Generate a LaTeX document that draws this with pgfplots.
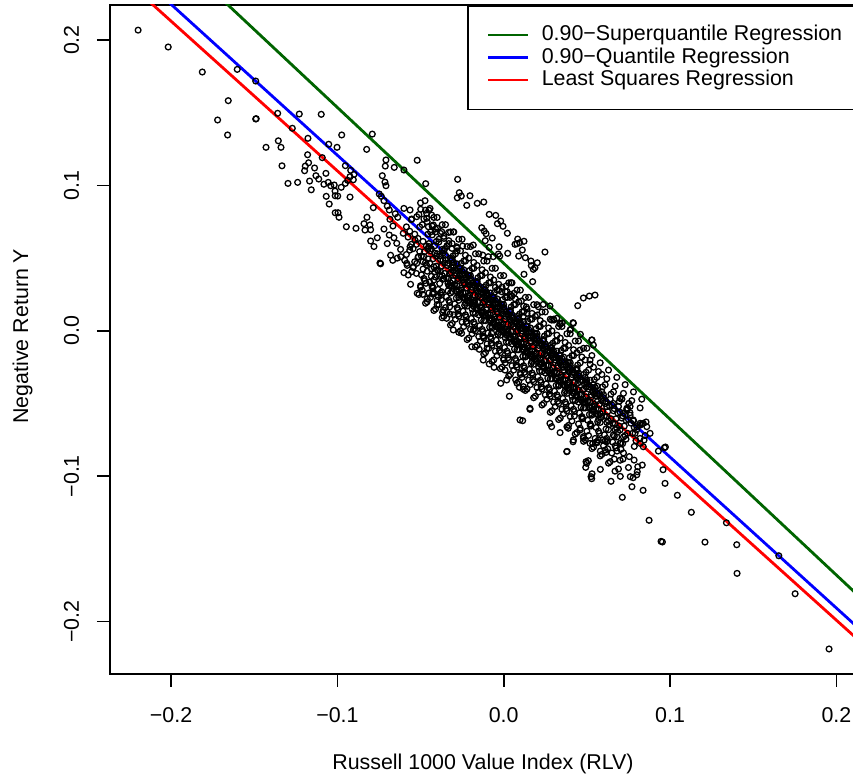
\documentclass[border=0pt]{standalone}
\usepackage{fontspec}
\setmainfont{Liberation Sans}
\usepackage{pgfplots}
\pgfplotsset{compat=1.18}
\usepackage{pgfplotstable}
\definecolor{rdarkgreen}{RGB}{0,100,0}
\pgfplotstableread{
x y
-0.2198 0.2068
-0.2017 0.1952
-0.1812 0.1780
-0.1602 0.1798
-0.1491 0.1718
-0.1656 0.1583
-0.1720 0.1450
-0.1491 0.1457
-0.1488 0.1459
-0.1660 0.1347
-0.1359 0.1496
-0.1229 0.1491
-0.1097 0.1489
-0.1271 0.1393
-0.1177 0.1324
-0.0974 0.1347
-0.1052 0.1283
-0.1002 0.1262
-0.1355 0.1307
-0.1339 0.1262
-0.1429 0.1262
-0.1333 0.1135
-0.1179 0.1211
-0.1173 0.1156
-0.1193 0.1133
-0.1197 0.1101
-0.1137 0.1120
-0.1091 0.1191
-0.1069 0.1083
-0.1129 0.1067
-0.1112 0.1044
-0.1167 0.1030
-0.1297 0.1014
-0.1239 0.1021
-0.1157 0.0970
-0.1081 0.1008
-0.1055 0.1021
-0.1040 0.0998
-0.1019 0.1003
-0.0977 0.0987
-0.0952 0.1014
-0.0938 0.1035
-0.0924 0.1060
-0.0904 0.1039
-0.0952 0.1136
-0.0920 0.1104
-0.0900 0.1076
-0.1014 0.0961
-0.0998 0.0927
-0.1013 0.0929
-0.0924 0.0920
-0.1067 0.0925
-0.1049 0.0872
-0.1013 0.0812
-0.0996 0.0812
-0.0990 0.0781
-0.0946 0.0716
-0.0888 0.0705
-0.0790 0.1353
-0.0824 0.1248
-0.0708 0.1175
-0.0712 0.1133
-0.0658 0.1124
-0.0730 0.1067
-0.0714 0.1023
-0.0708 0.0998
-0.0748 0.0941
-0.0736 0.0925
-0.0720 0.0895
-0.0784 0.0847
-0.0840 0.0737
-0.0804 0.0728
-0.0834 0.0693
-0.0800 0.0695
-0.0822 0.0781
-0.0800 0.0618
-0.0740 0.0461
-0.0667 0.0485
-0.0619 0.0510
-0.0688 0.0831
-0.0700 0.0858
-0.0652 0.0805
-0.0637 0.0781
-0.0684 0.0767
-0.0666 0.0721
-0.0688 0.0659
-0.0643 0.0602
-0.0600 0.0842
-0.0563 0.0831
-0.0553 0.0769
-0.0523 0.0785
-0.0499 0.0836
-0.0473 0.0895
-0.0443 0.0842
-0.0463 0.0808
-0.0433 0.0796
-0.0463 0.0774
-0.0453 0.0716
-0.0423 0.0728
-0.0399 0.0705
-0.0373 0.0682
-0.0359 0.0636
-0.0331 0.0677
-0.0303 0.0680
-0.0341 0.0585
-0.0311 0.0567
-0.0283 0.0578
-0.0247 0.0583
-0.0183 0.0590
-0.0126 0.0521
-0.0093 0.0510
-0.0063 0.0510
-0.0032 0.0528
-0.0563 0.0578
-0.0533 0.0624
-0.0604 0.0671
-0.0583 0.0464
-0.0520 0.1173
-0.0600 0.1106
-0.0469 0.1012
-0.0277 0.1042
-0.0267 0.0950
-0.0279 0.0915
-0.0255 0.0927
-0.0203 0.0929
-0.0222 0.0863
-0.0159 0.0877
-0.0120 0.0886
-0.0087 0.0801
-0.0048 0.0794
-0.0018 0.0755
-0.0038 0.0737
-0.0004 0.0719
0.0022 0.0671
-0.0132 0.0709
-0.0117 0.0686
-0.0106 0.0668
-0.0069 0.0638
-0.0111 0.0620
-0.0087 0.0574
-0.0028 0.0578
0.0084 0.0631
0.0096 0.0606
0.0122 0.0616
0.0068 0.0595
0.0080 0.0599
0.0112 0.0556
0.0090 0.0514
0.0024 0.0533
-0.0024 0.0514
0.0248 0.0542
0.0130 0.0503
0.0164 0.0480
0.0202 0.0468
0.0166 0.0448
0.0188 0.0434
0.0178 0.0423
0.0122 0.0389
0.0174 0.0338
0.0479 0.0226
0.0515 0.0239
0.0549 0.0246
0.0445 0.0173
0.0278 0.0171
0.0238 0.0182
0.0208 0.0166
0.0202 0.0109
0.0302 0.0074
0.0339 0.0045
0.0352 0.0054
0.0417 0.0056
0.0403 0.0010
0.0461 -0.0024
0.0531 -0.0063
0.0062 0.0258
0.0038 0.0230
-0.0012 0.0269
0.0014 0.0308
0.0044 0.0331
0.0106 0.0205
0.0136 0.0164
0.0140 0.0120
0.0118 0.0100
-0.0574 0.0384
-0.0553 0.0407
-0.0543 0.0441
-0.0523 0.0464
-0.0513 0.0510
-0.0520 0.0258
-0.0487 0.0251
-0.0467 0.0327
-0.0423 0.0258
-0.0393 0.0235
-0.0373 0.0269
-0.0363 0.0143
-0.0323 0.0116
-0.0303 0.0006
-0.0253 -0.0017
-0.0183 0.0006
-0.0123 -0.0040
-0.0072 -0.0017
-0.0744 0.0466
-0.0427 0.0253
-0.0367 0.0127
-0.0343 0.0086
-0.0192 -0.0109
-0.0147 -0.0127
-0.0123 -0.0201
-0.0087 -0.0228
-0.0058 -0.0251
0.0008 -0.0270
-0.0018 -0.0361
0.0072 -0.0338
0.0094 -0.0388
0.0118 -0.0402
0.0034 -0.0450
0.0158 -0.0540
0.0114 -0.0618
0.0278 -0.0636
0.0339 -0.0700
0.0388 -0.0670
0.0479 -0.0728
0.0519 -0.0774
0.0569 -0.0751
0.0619 -0.0763
0.0699 -0.0774
0.0098 -0.0613
0.0158 -0.0533
0.0288 -0.0659
0.0379 -0.0831
0.0419 -0.0751
0.0459 -0.0682
0.0479 -0.0739
0.0495 -0.0900
0.0018 -0.0338
0.0118 -0.0384
0.0459 -0.0132
0.0519 -0.0201
0.0529 -0.0063
0.0539 -0.0098
0.0399 0.0006
0.0419 0.0052
0.0339 0.0052
0.0319 0.0086
0.0288 0.0074
0.0699 -0.0464
0.0740 -0.0533
0.0820 -0.0636
0.0860 -0.0659
0.0619 -0.0522
0.0659 -0.0499
0.0719 -0.0567
0.0779 -0.0613
0.0800 -0.0659
0.0839 -0.0636
0.1956 -0.2188
0.1752 -0.1808
0.1654 -0.1547
0.1403 -0.1668
0.1401 -0.1471
0.1339 -0.1320
0.1210 -0.1453
0.1128 -0.1248
0.1044 -0.1131
0.0946 -0.1448
0.0954 -0.1452
0.0874 -0.1303
0.0970 -0.1049
0.0958 -0.0955
0.0930 -0.0827
0.0972 -0.0799
0.0966 -0.0804
0.0838 -0.1097
0.0713 -0.1145
0.0771 -0.1072
0.0645 -0.1035
0.0701 -0.1001
0.0761 -0.1003
0.0778 -0.1010
0.0803 -0.0969
0.0806 -0.0935
0.0833 -0.0923
0.0784 -0.0889
0.0669 -0.0965
0.0581 -0.0953
0.0529 -0.1017
0.0525 -0.1003
0.0531 -0.0983
0.0493 -0.0939
0.0499 -0.0911
0.0509 -0.0893
0.0665 -0.0882
0.0717 -0.0882
0.0681 -0.0827
0.0705 -0.0770
0.0625 -0.0811
0.0615 -0.0836
0.0581 -0.0827
0.0381 -0.0829
0.0417 -0.0763
0.0839 -0.0797
0.0821 -0.0774
0.0844 -0.0751
0.0880 -0.0705
0.0856 -0.0627
0.0833 -0.0639
0.0821 -0.0648
0.0790 -0.0705
0.0699 -0.0682
0.0659 -0.0717
0.0609 -0.0758
0.0595 -0.0751
0.0559 -0.0763
0.0535 -0.0774
0.0752 -0.0499
0.0710 -0.0469
0.0740 -0.0545
0.0759 -0.0563
-0.060 0.040
-0.056 0.032
-0.050 0.030
-0.046 0.022
-0.040 0.018
-0.058 0.045
-0.064 0.050
-0.062 0.056
-0.070 0.060
-0.066 0.064
-0.072 0.070
-0.076 0.064
-0.078 0.058
-0.068 0.052
-0.045 0.060
-0.047 0.047
-0.044 0.055
-0.046 0.041
-0.043 0.066
-0.048 0.051
-0.042 0.035
-0.045 0.058
-0.040 0.053
-0.042 0.044
-0.039 0.061
-0.041 0.037
-0.038 0.049
-0.043 0.030
-0.037 0.056
-0.040 0.042
-0.041 0.068
-0.035 0.049
-0.037 0.038
-0.034 0.045
-0.036 0.055
-0.033 0.031
-0.038 0.041
-0.032 0.026
-0.035 0.052
-0.036 0.036
-0.033 0.060
-0.030 0.044
-0.032 0.033
-0.029 0.040
-0.031 0.049
-0.028 0.027
-0.033 0.036
-0.027 0.021
-0.030 0.047
-0.031 0.031
-0.028 0.055
-0.029 0.038
-0.025 0.039
-0.027 0.028
-0.024 0.035
-0.026 0.043
-0.023 0.022
-0.028 0.031
-0.022 0.017
-0.025 0.041
-0.026 0.026
-0.023 0.048
-0.024 0.033
-0.027 0.010
-0.020 0.034
-0.022 0.023
-0.019 0.030
-0.021 0.038
-0.018 0.017
-0.023 0.026
-0.017 0.012
-0.020 0.036
-0.021 0.021
-0.018 0.043
-0.019 0.028
-0.022 0.005
-0.017 0.031
-0.015 0.029
-0.017 0.018
-0.014 0.025
-0.016 0.033
-0.013 0.012
-0.018 0.021
-0.012 0.007
-0.015 0.031
-0.016 0.016
-0.013 0.038
-0.014 0.023
-0.017 0.000
-0.012 0.026
-0.018 0.019
-0.010 0.024
-0.012 0.013
-0.009 0.020
-0.011 0.028
-0.008 0.007
-0.013 0.016
-0.007 0.002
-0.010 0.026
-0.011 0.011
-0.008 0.033
-0.009 0.018
-0.012 -0.005
-0.007 0.021
-0.013 0.014
-0.010 -0.012
-0.005 0.019
-0.007 0.008
-0.004 0.015
-0.006 0.023
-0.003 0.002
-0.008 0.011
-0.002 -0.003
-0.005 0.021
-0.006 0.006
-0.003 0.028
-0.004 0.013
-0.007 -0.010
-0.002 0.016
-0.008 0.009
-0.005 0.030
0.000 0.014
-0.002 0.003
0.001 0.010
-0.001 0.018
0.002 -0.003
-0.003 0.006
0.003 -0.008
0.000 0.016
-0.001 0.001
0.002 0.023
0.001 0.008
-0.002 -0.015
0.003 0.011
-0.003 0.004
0.000 -0.020
0.001 0.027
0.005 0.009
0.003 -0.002
0.006 0.005
0.004 0.013
0.007 -0.008
0.002 0.001
0.008 -0.013
0.005 0.011
0.004 -0.004
0.007 0.018
0.006 0.003
0.003 -0.020
0.008 0.006
0.002 -0.001
0.005 0.024
0.010 0.004
0.008 -0.007
0.011 0.000
0.009 0.008
0.012 -0.013
0.007 -0.004
0.013 -0.018
0.010 0.006
0.009 -0.009
0.012 0.013
0.011 -0.002
0.008 -0.025
0.013 0.001
0.007 -0.006
0.010 -0.030
0.015 -0.001
0.013 -0.012
0.016 -0.005
0.014 0.003
0.017 -0.018
0.012 -0.009
0.018 -0.023
0.015 0.001
0.014 -0.014
0.017 0.008
0.016 -0.007
0.013 -0.030
0.018 -0.004
0.012 -0.011
0.020 -0.006
0.018 -0.017
0.021 -0.010
0.019 -0.002
0.022 -0.023
0.017 -0.014
0.023 -0.028
0.020 -0.004
0.019 -0.019
0.022 0.003
0.021 -0.012
0.018 -0.035
0.023 -0.009
0.017 -0.016
0.025 -0.011
0.023 -0.022
0.026 -0.015
0.024 -0.007
0.027 -0.028
0.022 -0.019
0.028 -0.033
0.025 -0.009
0.024 -0.024
0.027 -0.002
0.026 -0.017
0.023 -0.040
0.028 -0.014
0.030 -0.016
0.028 -0.027
0.031 -0.020
0.029 -0.012
0.032 -0.033
0.027 -0.024
0.033 -0.038
0.030 -0.014
0.029 -0.029
0.032 -0.007
0.031 -0.022
0.028 -0.045
0.033 -0.019
0.035 -0.021
0.033 -0.032
0.036 -0.025
0.034 -0.017
0.037 -0.038
0.032 -0.029
0.038 -0.043
0.035 -0.019
0.034 -0.034
0.037 -0.012
0.036 -0.027
0.033 -0.050
0.040 -0.026
0.038 -0.037
0.041 -0.030
0.039 -0.022
0.042 -0.043
0.037 -0.034
0.043 -0.048
0.040 -0.024
0.039 -0.039
0.042 -0.017
0.041 -0.032
0.038 -0.055
0.045 -0.031
0.043 -0.042
0.046 -0.035
0.044 -0.027
0.047 -0.048
0.042 -0.039
0.048 -0.053
0.045 -0.029
0.044 -0.044
0.047 -0.060
0.050 -0.036
0.048 -0.047
0.051 -0.040
0.049 -0.032
0.052 -0.053
0.047 -0.044
0.053 -0.058
0.050 -0.034
0.049 -0.049
0.052 -0.065
0.055 -0.041
0.053 -0.052
0.056 -0.045
0.054 -0.037
0.057 -0.058
0.052 -0.049
0.058 -0.063
0.055 -0.039
0.054 -0.054
0.060 -0.046
0.058 -0.057
0.061 -0.050
0.059 -0.042
0.062 -0.063
0.057 -0.054
0.063 -0.068
0.060 -0.044
0.065 -0.051
0.063 -0.062
0.066 -0.055
0.064 -0.047
0.067 -0.068
0.062 -0.059
0.068 -0.073
0.070 -0.056
0.068 -0.067
0.071 -0.060
0.069 -0.052
0.072 -0.073
0.067 -0.064
0.075 -0.061
0.073 -0.072
0.076 -0.058
0.080 -0.068
0.082 -0.074
0.078 -0.062
0.085 -0.072
-0.0575 0.0645
-0.0565 0.0555
-0.0585 0.0715
-0.0555 0.0595
-0.0595 0.0485
-0.0565 0.0685
-0.0585 0.0525
-0.0555 0.0765
-0.0525 0.0595
-0.0515 0.0505
-0.0535 0.0665
-0.0505 0.0545
-0.0545 0.0435
-0.0515 0.0635
-0.0535 0.0475
-0.0505 0.0715
-0.0545 0.0565
-0.0525 0.0395
-0.0475 0.0545
-0.0465 0.0455
-0.0485 0.0615
-0.0455 0.0495
-0.0495 0.0385
-0.0465 0.0585
-0.0485 0.0425
-0.0455 0.0665
-0.0495 0.0515
-0.0475 0.0345
-0.0455 0.0565
-0.0485 0.0475
-0.0425 0.0495
-0.0415 0.0405
-0.0435 0.0565
-0.0405 0.0445
-0.0445 0.0335
-0.0415 0.0535
-0.0435 0.0375
-0.0405 0.0615
-0.0445 0.0465
-0.0425 0.0295
-0.0405 0.0515
-0.0435 0.0425
-0.0415 0.0585
-0.0425 0.0265
-0.0375 0.0445
-0.0365 0.0355
-0.0385 0.0515
-0.0355 0.0395
-0.0395 0.0285
-0.0365 0.0485
-0.0385 0.0325
-0.0355 0.0565
-0.0395 0.0415
-0.0375 0.0245
-0.0355 0.0465
-0.0385 0.0375
-0.0365 0.0535
-0.0375 0.0215
-0.0325 0.0395
-0.0315 0.0305
-0.0335 0.0465
-0.0305 0.0345
-0.0345 0.0235
-0.0315 0.0435
-0.0335 0.0275
-0.0305 0.0515
-0.0345 0.0365
-0.0325 0.0195
-0.0305 0.0415
-0.0335 0.0325
-0.0315 0.0485
-0.0325 0.0165
-0.0275 0.0345
-0.0265 0.0255
-0.0285 0.0415
-0.0255 0.0295
-0.0295 0.0185
-0.0265 0.0385
-0.0285 0.0225
-0.0255 0.0465
-0.0295 0.0315
-0.0275 0.0145
-0.0255 0.0365
-0.0285 0.0275
-0.0265 0.0435
-0.0275 0.0115
-0.0225 0.0295
-0.0215 0.0205
-0.0235 0.0365
-0.0205 0.0245
-0.0245 0.0135
-0.0215 0.0335
-0.0235 0.0175
-0.0205 0.0415
-0.0245 0.0265
-0.0225 0.0095
-0.0205 0.0315
-0.0235 0.0225
-0.0215 0.0385
-0.0225 0.0065
-0.0175 0.0245
-0.0165 0.0155
-0.0185 0.0315
-0.0155 0.0195
-0.0195 0.0085
-0.0165 0.0285
-0.0185 0.0125
-0.0155 0.0365
-0.0195 0.0215
-0.0175 0.0045
-0.0155 0.0265
-0.0185 0.0175
-0.0165 0.0335
-0.0175 0.0015
-0.0125 0.0195
-0.0115 0.0105
-0.0135 0.0265
-0.0105 0.0145
-0.0145 0.0035
-0.0115 0.0235
-0.0135 0.0075
-0.0105 0.0315
-0.0145 0.0165
-0.0125 -0.0005
-0.0105 0.0215
-0.0135 0.0125
-0.0115 0.0285
-0.0125 -0.0035
-0.0075 0.0145
-0.0065 0.0055
-0.0085 0.0215
-0.0055 0.0095
-0.0095 -0.0015
-0.0065 0.0185
-0.0085 0.0025
-0.0055 0.0265
-0.0095 0.0115
-0.0075 -0.0055
-0.0055 0.0165
-0.0085 0.0075
-0.0065 0.0235
-0.0075 -0.0085
-0.0025 0.0095
-0.0015 0.0005
-0.0035 0.0165
-0.0005 0.0045
-0.0045 -0.0065
-0.0015 0.0135
-0.0035 -0.0025
-0.0005 0.0215
-0.0045 0.0065
-0.0025 -0.0105
-0.0005 0.0115
-0.0035 0.0025
-0.0015 0.0185
-0.0025 -0.0135
0.0025 0.0045
0.0035 -0.0045
0.0015 0.0115
0.0045 -0.0005
0.0005 -0.0115
0.0035 0.0085
0.0015 -0.0075
0.0045 0.0165
0.0005 0.0015
0.0025 -0.0155
0.0045 0.0065
0.0015 -0.0025
0.0035 0.0135
0.0025 -0.0185
0.0075 -0.0005
0.0085 -0.0095
0.0065 0.0065
0.0095 -0.0055
0.0055 -0.0165
0.0085 0.0035
0.0065 -0.0125
0.0095 0.0115
0.0055 -0.0035
0.0075 -0.0205
0.0095 0.0015
0.0065 -0.0075
0.0085 0.0085
0.0075 -0.0235
0.0125 -0.0055
0.0135 -0.0145
0.0115 0.0015
0.0145 -0.0105
0.0105 -0.0215
0.0135 -0.0015
0.0115 -0.0175
0.0145 0.0065
0.0105 -0.0085
0.0125 -0.0255
0.0145 -0.0035
0.0115 -0.0125
0.0135 0.0035
0.0125 -0.0285
0.0175 -0.0105
0.0185 -0.0195
0.0165 -0.0035
0.0195 -0.0155
0.0155 -0.0265
0.0185 -0.0065
0.0165 -0.0225
0.0195 0.0015
0.0155 -0.0135
0.0175 -0.0305
0.0195 -0.0085
0.0165 -0.0175
0.0185 -0.0015
0.0175 -0.0335
0.0225 -0.0155
0.0235 -0.0245
0.0215 -0.0085
0.0245 -0.0205
0.0205 -0.0315
0.0235 -0.0115
0.0215 -0.0275
0.0245 -0.0035
0.0205 -0.0185
0.0225 -0.0355
0.0245 -0.0135
0.0215 -0.0225
0.0235 -0.0065
0.0225 -0.0385
0.0275 -0.0205
0.0285 -0.0295
0.0265 -0.0135
0.0295 -0.0255
0.0255 -0.0365
0.0285 -0.0165
0.0265 -0.0325
0.0295 -0.0085
0.0255 -0.0235
0.0275 -0.0405
0.0295 -0.0185
0.0265 -0.0275
0.0285 -0.0115
0.0275 -0.0435
0.0325 -0.0255
0.0335 -0.0345
0.0315 -0.0185
0.0345 -0.0305
0.0305 -0.0415
0.0335 -0.0215
0.0315 -0.0375
0.0345 -0.0135
0.0305 -0.0285
0.0325 -0.0455
0.0345 -0.0235
0.0315 -0.0325
0.0335 -0.0165
0.0325 -0.0485
0.0375 -0.0305
0.0385 -0.0395
0.0365 -0.0235
0.0395 -0.0355
0.0355 -0.0465
0.0385 -0.0265
0.0365 -0.0425
0.0395 -0.0185
0.0355 -0.0335
0.0375 -0.0505
0.0395 -0.0285
0.0365 -0.0375
0.0385 -0.0215
0.0375 -0.0535
0.0425 -0.0355
0.0435 -0.0445
0.0415 -0.0285
0.0445 -0.0405
0.0405 -0.0515
0.0435 -0.0315
0.0415 -0.0475
0.0445 -0.0235
0.0405 -0.0385
0.0425 -0.0555
0.0445 -0.0335
0.0415 -0.0425
0.0435 -0.0265
0.0425 -0.0585
0.0475 -0.0405
0.0485 -0.0495
0.0465 -0.0335
0.0495 -0.0455
0.0455 -0.0565
0.0485 -0.0365
0.0465 -0.0525
0.0495 -0.0285
0.0455 -0.0435
0.0475 -0.0605
0.0495 -0.0385
0.0465 -0.0475
0.0525 -0.0455
0.0535 -0.0545
0.0515 -0.0385
0.0545 -0.0505
0.0505 -0.0615
0.0535 -0.0415
0.0515 -0.0575
0.0545 -0.0335
0.0505 -0.0485
0.0525 -0.0655
0.0545 -0.0435
0.0515 -0.0525
0.0575 -0.0505
0.0585 -0.0595
0.0565 -0.0435
0.0595 -0.0555
0.0555 -0.0665
0.0585 -0.0465
0.0565 -0.0625
0.0595 -0.0385
0.0555 -0.0535
0.0575 -0.0705
0.0595 -0.0485
0.0565 -0.0575
0.0625 -0.0555
0.0635 -0.0645
0.0615 -0.0485
0.0645 -0.0605
0.0605 -0.0715
0.0635 -0.0515
0.0615 -0.0675
0.0645 -0.0435
0.0605 -0.0585
0.0625 -0.0755
0.0675 -0.0605
0.0685 -0.0695
0.0665 -0.0535
0.0695 -0.0655
0.0655 -0.0765
0.0685 -0.0565
0.0665 -0.0725
0.0695 -0.0485
0.0655 -0.0635
0.0675 -0.0805
0.0725 -0.0655
0.0735 -0.0745
0.0715 -0.0585
0.0745 -0.0705
0.0705 -0.0815
0.0735 -0.0615
0.0715 -0.0775
0.0745 -0.0535
0.0775 -0.0705
0.0785 -0.0795
0.0765 -0.0635
0.0795 -0.0755
0.0755 -0.0865
0.0785 -0.0665
-0.048 0.077
-0.050 0.031
-0.047 0.083
-0.051 0.025
-0.049 0.073
-0.048 0.036
-0.050 0.088
-0.047 0.019
-0.051 0.080
-0.049 0.028
-0.043 0.072
-0.045 0.026
-0.042 0.078
-0.046 0.020
-0.044 0.068
-0.043 0.031
-0.045 0.083
-0.042 0.014
-0.046 0.075
-0.044 0.023
-0.038 0.067
-0.040 0.021
-0.037 0.073
-0.041 0.015
-0.039 0.063
-0.038 0.026
-0.040 0.078
-0.037 0.009
-0.041 0.070
-0.039 0.018
-0.033 0.062
-0.035 0.016
-0.032 0.068
-0.036 0.010
-0.034 0.058
-0.033 0.021
-0.035 0.073
-0.032 0.004
-0.036 0.065
-0.034 0.013
-0.028 0.057
-0.030 0.011
-0.027 0.063
-0.031 0.005
-0.029 0.053
-0.028 0.016
-0.030 0.068
-0.027 -0.001
-0.031 0.060
-0.029 0.008
-0.023 0.052
-0.025 0.006
-0.022 0.058
-0.026 0.000
-0.024 0.048
-0.023 0.011
-0.025 0.063
-0.022 -0.006
-0.026 0.055
-0.024 0.003
-0.018 0.047
-0.020 0.001
-0.017 0.053
-0.021 -0.005
-0.019 0.043
-0.018 0.006
-0.020 0.058
-0.017 -0.011
-0.021 0.050
-0.019 -0.002
-0.013 0.042
-0.015 -0.004
-0.012 0.048
-0.016 -0.010
-0.014 0.038
-0.013 0.001
-0.015 0.053
-0.012 -0.016
-0.016 0.045
-0.014 -0.007
-0.008 0.037
-0.010 -0.009
-0.007 0.043
-0.011 -0.015
-0.009 0.033
-0.008 -0.004
-0.010 0.048
-0.007 -0.021
-0.011 0.040
-0.009 -0.012
-0.003 0.032
-0.005 -0.014
-0.002 0.038
-0.006 -0.020
-0.004 0.028
-0.003 -0.009
-0.005 0.043
-0.002 -0.026
-0.006 0.035
-0.004 -0.017
0.002 0.027
0.000 -0.019
0.003 0.033
-0.001 -0.025
0.001 0.023
0.002 -0.014
0.000 0.038
0.003 -0.031
-0.001 0.030
0.001 -0.022
0.007 0.022
0.005 -0.024
0.008 0.028
0.004 -0.030
0.006 0.018
0.007 -0.019
0.005 0.033
0.008 -0.036
0.004 0.025
0.006 -0.027
0.012 0.017
0.010 -0.029
0.013 0.023
0.009 -0.035
0.011 0.013
0.012 -0.024
0.010 0.028
0.013 -0.041
0.009 0.020
0.011 -0.032
0.017 0.012
0.015 -0.034
0.018 0.018
0.014 -0.040
0.016 0.008
0.017 -0.029
0.015 0.023
0.018 -0.046
0.014 0.015
0.016 -0.037
0.022 0.007
0.020 -0.039
0.023 0.013
0.019 -0.045
0.021 0.003
0.022 -0.034
0.020 0.018
0.023 -0.051
0.019 0.010
0.021 -0.042
0.027 0.002
0.025 -0.044
0.028 0.008
0.024 -0.050
0.026 -0.002
0.027 -0.039
0.025 0.013
0.028 -0.056
0.024 0.005
0.026 -0.047
0.032 -0.003
0.030 -0.049
0.033 0.003
0.029 -0.055
0.031 -0.007
0.032 -0.044
0.030 0.008
0.033 -0.061
0.029 0.000
0.031 -0.052
0.037 -0.008
0.035 -0.054
0.038 -0.002
0.034 -0.060
0.036 -0.012
0.037 -0.049
0.035 0.003
0.038 -0.066
0.034 -0.005
0.036 -0.057
0.042 -0.013
0.040 -0.059
0.043 -0.007
0.039 -0.065
0.041 -0.017
0.042 -0.054
0.040 -0.002
0.043 -0.071
0.039 -0.010
0.041 -0.062
0.047 -0.018
0.045 -0.064
0.048 -0.012
0.044 -0.070
0.046 -0.022
0.047 -0.059
0.045 -0.007
0.048 -0.076
0.044 -0.015
0.046 -0.067
0.052 -0.023
0.050 -0.069
0.053 -0.017
0.049 -0.075
0.051 -0.027
0.052 -0.064
0.050 -0.012
0.053 -0.081
0.049 -0.020
0.051 -0.072
0.057 -0.028
0.055 -0.074
0.058 -0.022
0.054 -0.080
0.056 -0.032
0.057 -0.069
0.058 -0.086
0.054 -0.025
0.056 -0.077
0.062 -0.033
0.060 -0.079
0.063 -0.027
0.059 -0.085
0.061 -0.037
0.062 -0.074
0.063 -0.091
0.059 -0.030
0.061 -0.082
0.067 -0.038
0.065 -0.084
0.068 -0.032
0.064 -0.090
0.066 -0.042
0.067 -0.079
0.072 -0.043
0.070 -0.089
0.073 -0.037
0.069 -0.095
0.071 -0.047
0.072 -0.084
0.077 -0.048
0.075 -0.094
0.078 -0.042
0.076 -0.052
0.082 -0.053
0.080 -0.099
0.083 -0.047
-0.0315 0.040
-0.0325 0.031
-0.0305 0.045
-0.0335 0.036
-0.032 0.050
-0.031 0.027
-0.0275 0.036
-0.0285 0.027
-0.0265 0.041
-0.0295 0.032
-0.028 0.046
-0.027 0.023
-0.0235 0.032
-0.0245 0.023
-0.0225 0.037
-0.0255 0.028
-0.024 0.042
-0.023 0.019
-0.0195 0.028
-0.0205 0.019
-0.0185 0.033
-0.0215 0.024
-0.020 0.038
-0.019 0.015
-0.0155 0.024
-0.0165 0.015
-0.0145 0.029
-0.0175 0.020
-0.016 0.034
-0.015 0.011
-0.0115 0.020
-0.0125 0.011
-0.0105 0.025
-0.0135 0.016
-0.012 0.030
-0.011 0.007
-0.0075 0.016
-0.0085 0.007
-0.0065 0.021
-0.0095 0.012
-0.008 0.026
-0.007 0.003
-0.0035 0.012
-0.0045 0.003
-0.0025 0.017
-0.0055 0.008
-0.004 0.022
-0.003 -0.001
0.0005 0.008
-0.0005 -0.001
0.0015 0.013
-0.0015 0.004
0.000 0.018
0.001 -0.005
0.0045 0.004
0.0035 -0.005
0.0055 0.009
0.0025 0.000
0.004 0.014
0.005 -0.009
0.0085 0.000
0.0075 -0.009
0.0095 0.005
0.0065 -0.004
0.008 0.010
0.009 -0.013
0.0125 -0.004
0.0115 -0.013
0.0135 0.001
0.0105 -0.008
0.012 0.006
0.013 -0.017
0.0165 -0.008
0.0155 -0.017
0.0175 -0.003
0.0145 -0.012
0.016 0.002
0.017 -0.021
0.0205 -0.012
0.0195 -0.021
0.0215 -0.007
0.0185 -0.016
0.020 -0.002
0.021 -0.025
0.0245 -0.016
0.0235 -0.025
0.0255 -0.011
0.0225 -0.020
0.024 -0.006
0.025 -0.029
0.0285 -0.020
0.0275 -0.029
0.0295 -0.015
0.0265 -0.024
0.028 -0.010
0.029 -0.033
0.0325 -0.024
0.0315 -0.033
0.0335 -0.019
0.0305 -0.028
0.032 -0.014
0.033 -0.037
0.0365 -0.028
0.0355 -0.037
0.0375 -0.023
0.0345 -0.032
0.036 -0.018
0.037 -0.041
0.0405 -0.032
0.0395 -0.041
0.0415 -0.027
0.0385 -0.036
0.040 -0.022
0.041 -0.045
0.0445 -0.036
0.0435 -0.045
0.0455 -0.031
0.0425 -0.040
0.044 -0.026
0.045 -0.049
0.0485 -0.040
0.0475 -0.049
0.0495 -0.035
0.0465 -0.044
0.048 -0.030
0.049 -0.053
0.0525 -0.044
0.0515 -0.053
0.0535 -0.039
0.0505 -0.048
0.052 -0.034
0.053 -0.057
0.0565 -0.048
0.0555 -0.057
0.0575 -0.043
0.0545 -0.052
0.056 -0.038
0.057 -0.061
}\scatterdata
\begin{document}
\fontsize{10.7pt}{12.8pt}\selectfont
\begin{tikzpicture}
\path[use as bounding box] (-55pt,-53pt) rectangle (371.5pt,337pt);
\clip (-55pt,-53pt) rectangle (371.5pt,337pt);
\begin{axis}[
  scale only axis, width=373pt, height=334.5pt,
  xmin=-0.2367, xmax=0.2118, ymin=-0.2360, ymax=0.2241,
  axis line style={line width=0.8pt},
  tick align=outside, major tick length=6.5pt,
  every tick/.style={black, line width=0.8pt},
  xtick pos=left, ytick pos=left,
  xtick={-0.2,-0.1,0,0.1,0.2}, xticklabels={−0.2,−0.1,0.0,0.1,0.2},
  ytick={-0.2,-0.1,0,0.1,0.2}, yticklabels={−0.2,−0.1,0.0,0.1,0.2},
  xticklabel style={anchor=base, inner sep=0pt},
  yticklabel style={rotate=90, anchor=base, inner sep=0pt},
  xticklabel shift=18pt, yticklabel shift=9pt,
  xlabel={Russell 1000 Value Index (RLV)},
  ylabel={Negative Return Y},
  xlabel style={at={(axis description cs:0.5,-0.1435)}, anchor=base, inner sep=0pt},
  ylabel style={at={(axis description cs:-0.1099,0.505)}, anchor=base, inner sep=0pt},
  legend style={at={(1.008,1)}, anchor=north east, draw=black, line width=0.8pt, fill=white,
    inner xsep=9.5pt, inner ysep=9.9pt, row sep=1.75pt, column sep=6pt,
    nodes={inner sep=0pt, text height=7.5pt, text depth=2pt}},
  legend cell align=left,
  legend image code/.code={\draw[#1] (0pt,0pt) -- (20pt,0pt);},
]
\addplot[only marks, mark=o, mark size=1.45pt, mark options={line width=0.65pt}, black, forget plot] table {\scatterdata};
\addplot[rdarkgreen, line width=1.4pt] coordinates {(-0.24,0.3037) (0.22,-0.1894)};
\addlegendentry{0.90−Superquantile Regression}
\addplot[blue, line width=1.4pt] coordinates {(-0.24,0.2661) (0.22,-0.2114)};
\addlegendentry{0.90−Quantile Regression}
\addplot[red, line width=1.4pt] coordinates {(-0.24,0.2542) (0.22,-0.2196)};
\addlegendentry{Least Squares Regression}
\end{axis}
\end{tikzpicture}
\end{document}
